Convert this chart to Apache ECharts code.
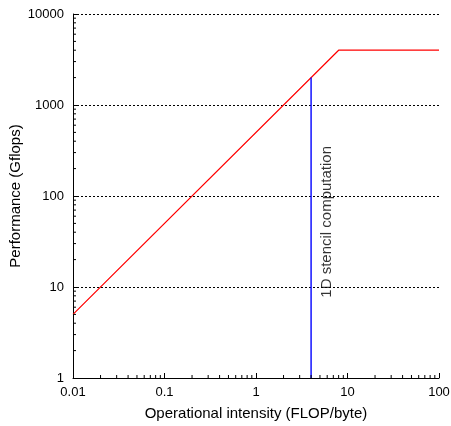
<!DOCTYPE html>
<html><head><meta charset="utf-8">
<script src="https://cdn.jsdelivr.net/npm/echarts@6/dist/echarts.min.js"></script>
<style>html,body{margin:0;padding:0;background:#fff}#c{width:451px;height:426px}</style>
</head><body><div id="c"></div>
<script>
const roofX = [0.01, 8, 100];
const roofY = [5, 4000, 4000];
const stencilX = [4, 4];
const stencilY = [1, 2000];
const stencilLabel = '1D stencil computation';
const stencilLabelPos = [6, 52];
const xMinorTicks = [];
const yMinorTicks = [];
[0.01, 0.1, 1, 10].forEach(d => { for (let k = 2; k <= 9; k++) xMinorTicks.push(+(d * k).toPrecision(3)); });
[1, 10, 100, 1000].forEach(d => { for (let k = 2; k <= 9; k++) yMinorTicks.push(d * k); });

const FONT = 'Liberation Sans';
const chart = echarts.init(document.getElementById('c'), null, {renderer: 'canvas'});
function minorTickSeries(data, isX) {
  return {
    type: 'custom', silent: true, z: 5,
    data: data.map(v => isX ? [v, 1] : [0.01, v]),
    renderItem: function (params, api) {
      const p = api.coord([api.value(0), api.value(1)]);
      const shape = isX ? {x1: p[0], y1: p[1], x2: p[0], y2: p[1] - 3}
                        : {x1: p[0], y1: p[1], x2: p[0] + 3, y2: p[1]};
      return {type: 'line', shape: shape, style: {stroke: '#000', lineWidth: 1}};
    }
  };
}
chart.setOption({
  animation: false,
  textStyle: {fontFamily: FONT},
  grid: {left: 73, top: 14, right: 12, bottom: 48, containLabel: false, outerBoundsMode: 'none'},
  xAxis: {
    type: 'log', logBase: 10, min: 0.01, max: 100,
    name: 'Operational intensity (FLOP/byte)', nameLocation: 'middle', nameGap: 28,
    nameTextStyle: {color: '#000', fontSize: 15, fontFamily: FONT},
    axisLine: {lineStyle: {color: '#000', width: 1}},
    axisTick: {inside: true, length: 5, lineStyle: {color: '#000'}},
    axisLabel: {color: '#000', fontSize: 13, fontFamily: FONT, margin: 8, showMaxLabel: true, formatter: v => String(v)},
    splitLine: {show: false}
  },
  yAxis: {
    type: 'log', logBase: 10, min: 1, max: 10000,
    name: 'Performance (Gflops)', nameLocation: 'middle', nameGap: 50,
    nameTextStyle: {color: '#000', fontSize: 15, fontFamily: FONT},
    nameMoveOverlap: false,
    axisLine: {show: true, lineStyle: {color: '#000', width: 1}},
    axisTick: {show: true, inside: true, length: 5, lineStyle: {color: '#000'}},
    axisLabel: {color: '#000', fontSize: 13, fontFamily: FONT, margin: 9, formatter: v => String(v)},
    splitLine: {show: true, lineStyle: {color: '#000', type: [2, 2], width: 1}}
  },
  series: [
    {type: 'line', data: roofX.map((x, i) => [x, roofY[i]]), symbol: 'none',
     lineStyle: {color: '#ff0000', width: 1.2}, z: 3},
    {type: 'line', data: stencilX.map((x, i) => [x, stencilY[i]]), symbol: 'none',
     lineStyle: {color: '#0000ff', width: 1.4}, z: 3},
    {type: 'scatter', data: [stencilLabelPos], symbolSize: 0, silent: true,
     label: {show: true, position: 'inside', rotate: 90, formatter: stencilLabel,
             color: '#000', fontSize: 15, fontFamily: FONT}},
    minorTickSeries(xMinorTicks, true),
    minorTickSeries(yMinorTicks, false)
  ]
});
</script></body></html>
